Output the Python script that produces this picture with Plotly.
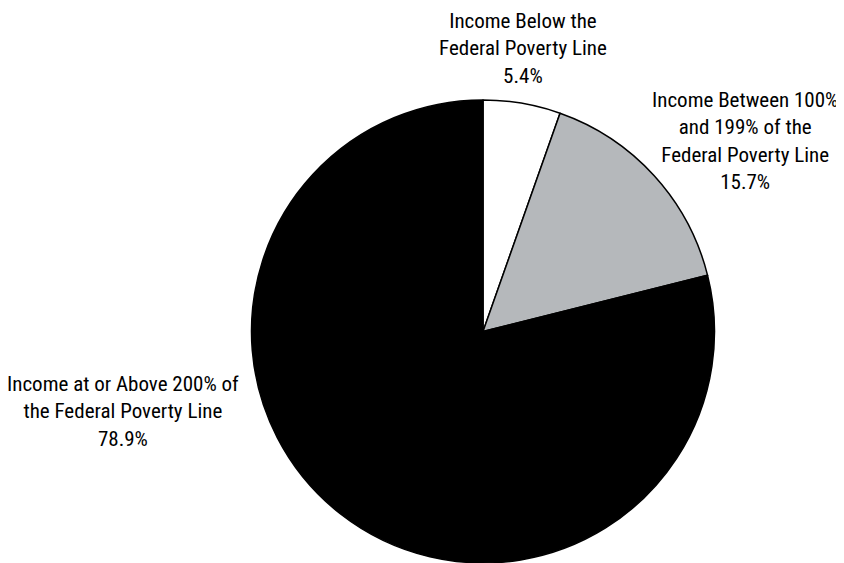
import plotly.graph_objects as go

labels = ["Income Below the<br>Federal Poverty Line",
          "Income Between 100%<br>and 199% of the<br>Federal Poverty Line",
          "Income at or Above 200% of<br>the Federal Poverty Line"]
values = [5.4, 15.7, 78.9]
colors = ["#ffffff", "#b5b8bb", "#000000"]

W, H = 844, 563
OFF = 8  # page body margin offset in the browser
fig = go.Figure(go.Pie(
    labels=labels, values=values, sort=False, direction="clockwise", rotation=0,
    marker=dict(colors=colors, line=dict(color="#000000", width=1.5)),
    textinfo="none", hoverinfo="label+percent", showlegend=False,
    domain=dict(x=[(251 - OFF) / W, (715 - OFF) / W], y=[1 - (563 - OFF) / H, 1 - (100 - OFF) / H]),
))

# label anchor positions (pixels) for each slice annotation
label_pos = [(523, 49), (745, 141), (123, 411)]
font = dict(family="Roboto Condensed, Arial Narrow, sans-serif",
            size=21, color="#000000")
for lab, val, (px, py) in zip(labels, values, label_pos):
    fig.add_annotation(text=f"{lab}<br>{val}%", x=(px - OFF) / W, y=1 - (py - OFF) / H,
                       xref="paper", yref="paper", xanchor="center", yanchor="middle",
                       showarrow=False, font=font, align="center", borderpad=0)

fig.update_layout(width=W, height=H, margin=dict(l=0, r=0, t=0, b=0),
                  paper_bgcolor="white", plot_bgcolor="white")
fig.write_html("out.html")
